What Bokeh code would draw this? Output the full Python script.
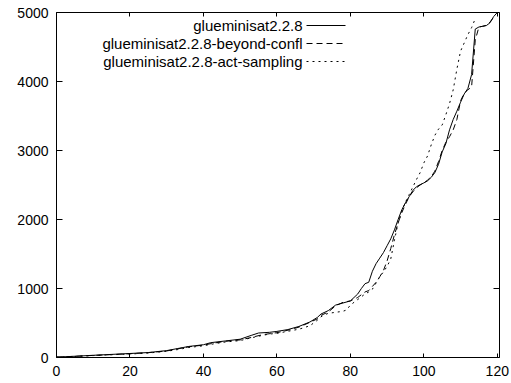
from bokeh.plotting import figure
from bokeh.models import FixedTicker, LinearAxis, Range1d, Label, Arrow, CustomJSTickFormatter
from bokeh.embed import file_html
from bokeh.resources import INLINE

# ---- data ----
series_names = ["glueminisat2.2.8", "glueminisat2.2.8-beyond-confl", "glueminisat2.2.8-act-sampling"]

x_solid = [0, 5, 10, 15, 20, 25, 30, 33, 36, 40, 42, 46, 50, 53, 55, 58, 60, 63, 66, 69, 71, 72, 74, 76, 78, 80,
           82, 83, 84, 85, 86, 87, 88, 89, 90, 91, 92, 93, 94, 95, 96, 97, 98, 99, 100, 101, 102, 103, 104, 105,
           106, 107, 108, 109, 110, 111, 112, 113, 114, 115, 116, 117, 118, 119, 120]
y_solid = [5, 18, 32, 45, 58, 72, 100, 130, 160, 185, 215, 240, 265, 320, 355, 365, 378, 405, 450, 515, 580, 630, 680, 760, 790, 820,
           920, 1000, 1070, 1090, 1250, 1360, 1440, 1520, 1620, 1720, 1850, 2000, 2140, 2245, 2330, 2420, 2475, 2505, 2530, 2560, 2610, 2680, 2800, 2980,
           3100, 3300, 3450, 3570, 3700, 3820, 3900, 4100, 4760, 4790, 4800, 4810, 4850, 4940, 5000]

x_dashed = [0, 5, 10, 15, 20, 25, 30, 33, 36, 40, 43, 46, 50, 53, 56, 60, 63, 66, 69, 71, 72, 74, 76, 78, 80,
            82, 84, 85, 86, 87, 88, 89, 90, 91, 92, 93, 94, 95, 96, 97, 98, 99, 100, 101, 102, 103, 104, 105,
            106, 107, 108, 109, 110, 111, 112, 113, 114, 115, 116, 117, 118, 119]
y_dashed = [5, 17, 30, 42, 55, 70, 95, 125, 155, 180, 210, 235, 255, 290, 330, 360, 395, 440, 510, 560, 610, 660, 750, 800, 820,
            870, 950, 970, 1030, 1090, 1170, 1260, 1400, 1580, 1780, 1950, 2100, 2220, 2330, 2400, 2460, 2500, 2530, 2570, 2620, 2700, 2840, 3000,
            3120, 3200, 3300, 3450, 3720, 3830, 3880, 3920, 4600, 4790, 4800, 4815, 4860, 4930]

x_dotted = [0, 5, 10, 15, 20, 25, 30, 33, 36, 40, 43, 46, 50, 53, 56, 58, 60, 63, 66, 69, 71, 72, 73, 74, 76, 78, 79, 80,
            81, 83, 84, 85, 86, 87, 88, 89, 90, 91, 92, 93, 94, 95, 96, 97, 98, 99, 100, 101, 102, 103, 104, 105,
            106, 107, 108, 109, 110, 111, 112, 113, 114]
y_dotted = [5, 15, 28, 40, 50, 65, 90, 115, 145, 170, 200, 225, 245, 285, 320, 340, 350, 380, 410, 460, 540, 590, 620, 640, 655, 670, 690, 760,
            800, 880, 920, 950, 990, 1080, 1170, 1240, 1320, 1430, 1700, 1950, 2120, 2250, 2360, 2470, 2580, 2680, 2820, 2920, 3080, 3220, 3310, 3370,
            3520, 3680, 3880, 4180, 4440, 4560, 4680, 4780, 4910]

x_ticks = [0, 20, 40, 60, 80, 100, 120]
y_ticks = [0, 1000, 2000, 3000, 4000, 5000]

FONT = "Liberation Sans"

p = figure(width=511, height=383, output_backend="svg", toolbar_location=None,
           x_range=Range1d(0, 120.6), y_range=Range1d(0, 5000),
           min_border_left=56, min_border_right=12, min_border_top=12, min_border_bottom=26)
p.background_fill_color = "white"
p.border_fill_color = "white"
p.outline_line_color = "black"
p.outline_line_width = 1
p.xgrid.visible = False
p.ygrid.visible = False

for ax, ticks, tin, stand in ((p.xaxis[0], x_ticks, 4, 8), (p.yaxis[0], y_ticks, 6, 8)):
    ax.ticker = FixedTicker(ticks=ticks)
    ax.major_tick_in = tin
    ax.major_tick_out = 0
    ax.minor_tick_in = 0
    ax.minor_tick_out = 0
    ax.major_tick_line_color = "black"
    ax.axis_line_color = None
    ax.major_label_standoff = stand
    ax.major_label_text_font = FONT
    ax.major_label_text_font_size = "14px"
    ax.major_label_text_color = "black"

# mirror ticks on top and right (gnuplot style)
for loc, ticks, tin in (("above", x_ticks, 4), ("right", y_ticks, 6)):
    ax = LinearAxis(ticker=FixedTicker(ticks=ticks),
                    formatter=CustomJSTickFormatter(code="return ''"),
                    major_tick_in=tin, major_tick_out=0, minor_tick_in=0, minor_tick_out=0,
                    major_label_standoff=0, axis_line_color=None, major_tick_line_color="black")
    p.add_layout(ax, loc)

styles = [dict(line_dash="solid"), dict(line_dash="6 4"), dict(line_dash="2 4")]
data = [(x_solid, y_solid), (x_dashed, y_dashed), (x_dotted, y_dotted)]
for (xs, ys), st in zip(data, styles):
    p.line(xs, ys, line_color="black", line_width=1, **st)

# gnuplot-style key: text right-aligned, sample line to the right
row_y = [25, 43, 61]
for name, st, ry in zip(series_names, styles, row_y):
    p.add_layout(Label(x=302, y=ry, x_units="canvas", y_units="canvas", text=name,
                       text_align="right", text_baseline="middle",
                       text_font=FONT, text_font_size="15px", text_color="black"))
    p.add_layout(Arrow(end=None, x_start=306, y_start=ry, x_end=345, y_end=ry,
                       start_units="canvas", end_units="canvas",
                       line_color="black", line_width=1, **st))

open("out.html", "w").write(file_html(p, INLINE))
